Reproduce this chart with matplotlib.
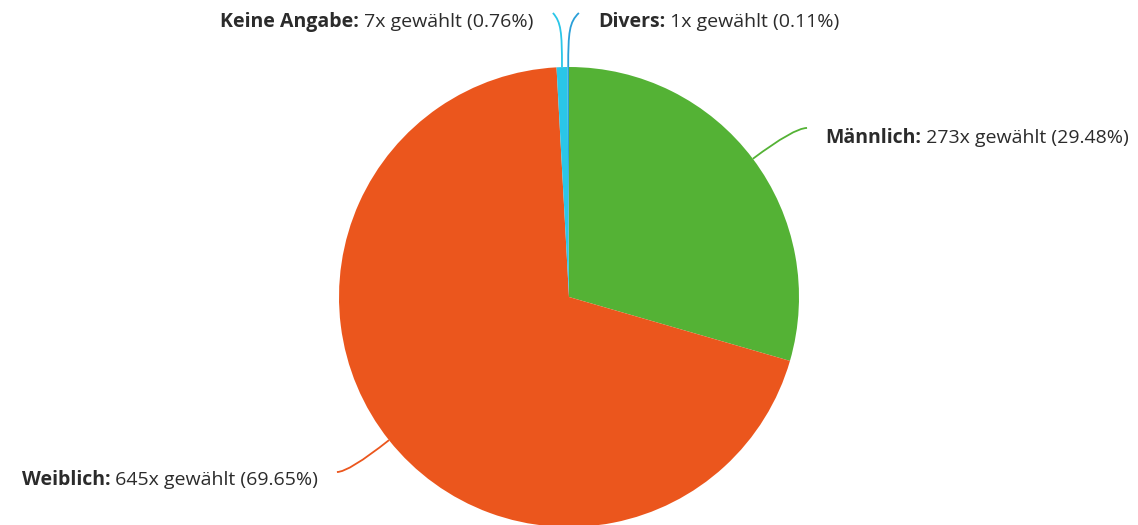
import numpy as np
import matplotlib.pyplot as plt
from matplotlib.path import Path
from matplotlib.patches import PathPatch
from matplotlib import transforms

plt.rcParams['font.family'] = ['Open Sans', 'DejaVu Sans']

# data
labels = ['Männlich', 'Weiblich', 'Keine Angabe', 'Divers']
counts = [273, 645, 7, 1]
percents = [29.48, 69.65, 0.76, 0.11]
colors = ['#54b235', '#eb561d', '#2ac6e8', '#2a9fd8']

# layout: leader end point and label anchor (in pie radius units), label side
line_ends = [(1.035, 0.735), (-1.009, -0.761), (-0.070, 1.235), (0.043, 1.235)]
text_pos = [(1.113, 0.670), (-1.091, -0.817), (-0.157, 1.174), (0.126, 1.174)]
sides = ['right', 'left', 'left', 'right']

W, H = 1138, 525
cx, cy, R = 569, 297, 230
FS = 14

fig = plt.figure(figsize=(W / 100, H / 100), dpi=100)
ax = fig.add_axes([0, 0, 1, 1])

wedges, _ = ax.pie(counts, colors=colors, startangle=90, counterclock=False,
                   radius=1, center=(0, 0), frame=True,
                   wedgeprops=dict(linewidth=0))
ax.set_xlim(-cx / R, (W - cx) / R)
ax.set_ylim(-(H - cy) / R, cy / R)
ax.set_aspect('auto')
ax.axis('off')

fig.canvas.draw()
renderer = fig.canvas.get_renderer()
txt_color = '#2b2b2b'

for w, lab, n, p, col, end, tp, side in zip(wedges, labels, counts, percents,
                                            colors, line_ends, text_pos, sides):
    a = np.deg2rad((w.theta1 + w.theta2) / 2)
    x0, y0 = np.cos(a), np.sin(a)
    x3, y3 = end
    if abs(y3 - y0) > abs(x3 - x0) * 3:
        # labels above the pie: go up, then flare sideways
        verts = [(x0, y0), (x0, y0 + 0.65 * (y3 - y0)),
                 (x0 + 0.1 * (x3 - x0), y3 - 0.04), (x3, y3)]
        codes = [Path.MOVETO, Path.CURVE4, Path.CURVE4, Path.CURVE4]
    else:
        # control point where the radial line meets the horizontal end line
        t = (y3 - y0) / np.sin(a)
        ctrl = (x0 + t * np.cos(a), y3)
        verts = [(x0, y0), ctrl, (x3, y3)]
        codes = [Path.MOVETO, Path.CURVE3, Path.CURVE3]
    ax.add_patch(PathPatch(Path(verts, codes), fill=False, edgecolor=col, lw=1.3))

    bold = f'{lab}:'
    rest = f' {n}x gewählt ({p:.2f}%)'
    if side == 'right':
        t1 = ax.text(tp[0], tp[1], bold, fontsize=FS, fontweight='bold',
                     color=txt_color, ha='left', va='baseline')
        wpx = t1.get_window_extent(renderer).width
        tr = transforms.offset_copy(ax.transData, fig, x=wpx, y=0, units='dots')
        ax.text(tp[0], tp[1], rest, fontsize=FS, color=txt_color,
                ha='left', va='baseline', transform=tr)
    else:
        t2 = ax.text(tp[0], tp[1], rest, fontsize=FS, color=txt_color,
                     ha='right', va='baseline')
        wpx = t2.get_window_extent(renderer).width
        tr = transforms.offset_copy(ax.transData, fig, x=-wpx, y=0, units='dots')
        ax.text(tp[0], tp[1], bold, fontsize=FS, fontweight='bold',
                color=txt_color, ha='right', va='baseline', transform=tr)

fig.savefig('out.png', dpi=100)
